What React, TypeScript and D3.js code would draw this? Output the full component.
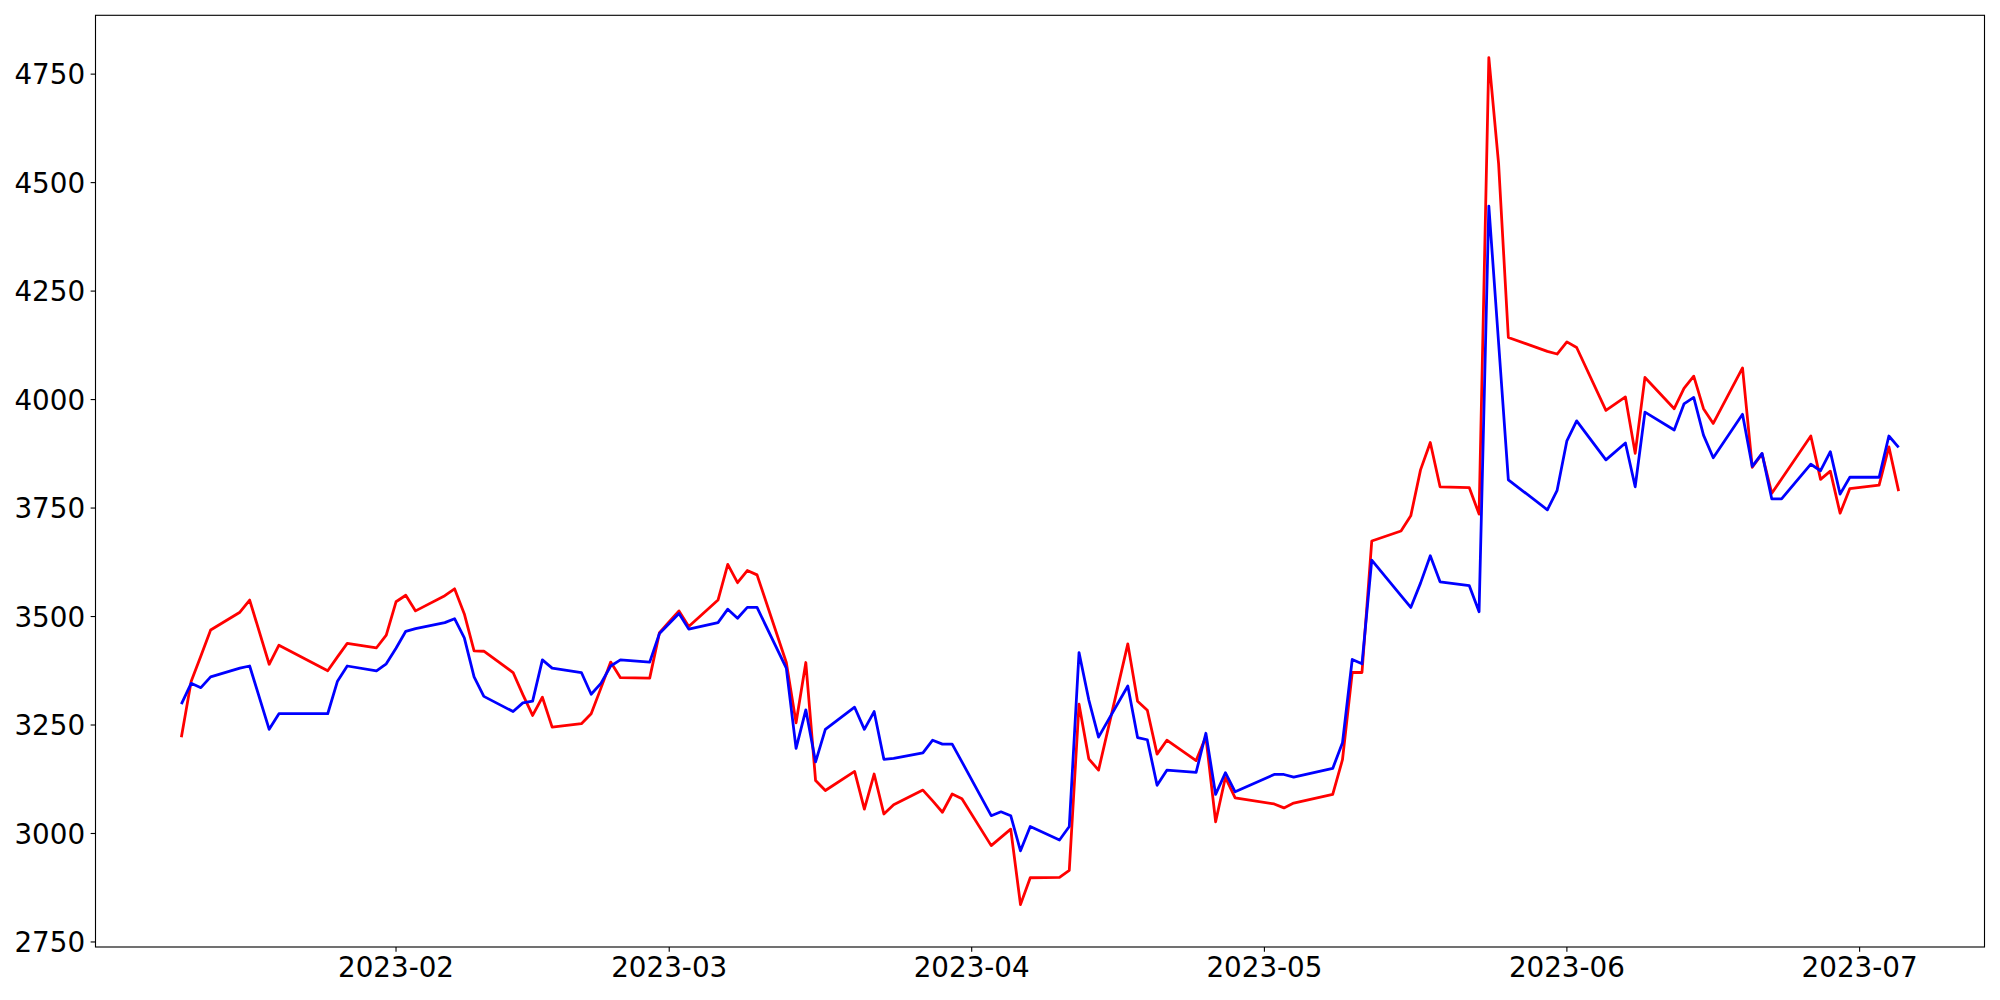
import React from "react";
import * as d3 from "d3";

const dates = [
  "2023-01-10","2023-01-11","2023-01-12","2023-01-13","2023-01-16","2023-01-17","2023-01-19","2023-01-20","2023-01-25","2023-01-26","2023-01-27","2023-01-30","2023-01-31",
  "2023-02-01","2023-02-02","2023-02-03","2023-02-06","2023-02-07","2023-02-08","2023-02-09","2023-02-10","2023-02-13","2023-02-14","2023-02-15","2023-02-16","2023-02-17","2023-02-20","2023-02-21","2023-02-22","2023-02-23","2023-02-24","2023-02-27","2023-02-28",
  "2023-03-01","2023-03-02","2023-03-03","2023-03-06","2023-03-07","2023-03-08","2023-03-09","2023-03-10","2023-03-13","2023-03-14","2023-03-15","2023-03-16","2023-03-17","2023-03-20","2023-03-21","2023-03-22","2023-03-23","2023-03-24","2023-03-27","2023-03-28","2023-03-29","2023-03-30","2023-03-31",
  "2023-04-03","2023-04-04","2023-04-05","2023-04-06","2023-04-07","2023-04-10","2023-04-11","2023-04-12","2023-04-13","2023-04-14","2023-04-17","2023-04-18","2023-04-19","2023-04-20","2023-04-21","2023-04-24","2023-04-25","2023-04-26","2023-04-27","2023-04-28",
  "2023-05-02","2023-05-03","2023-05-04","2023-05-08","2023-05-09","2023-05-10","2023-05-11","2023-05-12","2023-05-15","2023-05-16","2023-05-17","2023-05-18","2023-05-19","2023-05-22","2023-05-23","2023-05-24","2023-05-25","2023-05-26","2023-05-30","2023-05-31",
  "2023-06-01","2023-06-02","2023-06-05","2023-06-07","2023-06-08","2023-06-09","2023-06-12","2023-06-13","2023-06-14","2023-06-15","2023-06-16","2023-06-19","2023-06-20","2023-06-21","2023-06-22","2023-06-23","2023-06-26","2023-06-27","2023-06-28","2023-06-29","2023-06-30",
  "2023-07-03","2023-07-04","2023-07-05",
];

const redValues = [
  3222,3350,3409,3469,3510,3538,3390,3434,3375,3407,3438,3428,3457,
  3534,3549,3513,3548,3564,3506,3421,3420,3371,3320,3272,3314,3245,3253,3276,3335,3395,3359,3358,3463,
  3488,3513,3477,3538,3620,3578,3606,3596,3394,3255,3394,3122,3099,3143,3056,3137,3045,3066,3100,3075,3049,3091,3080,
  2972,2991,3010,2836,2898,2899,2915,3298,3172,3146,3437,3305,3284,3183,3215,3168,3223,3027,3129,3082,
  3068,3059,3070,3090,3170,3371,3371,3674,3697,3732,3838,3901,3799,3797,3736,4788,4544,4143,4111,4105,
  4133,4120,3975,4006,3876,4051,3979,4026,4054,3979,3945,4073,3844,3875,3784,3817,3916,3816,3835,3738,3795,
  3803,3891,3789,
];

const blueValues = [
  3298,3346,3336,3361,3381,3386,3240,3276,3276,3351,3386,3375,3391,
  3427,3466,3472,3486,3495,3451,3361,3316,3281,3301,3305,3400,3381,3371,3321,3346,3386,3400,3395,3461,
  3484,3507,3471,3486,3517,3496,3521,3521,3381,3196,3285,3165,3240,3291,3240,3281,3171,3173,3186,3215,3206,3206,3165,
  3041,3050,3041,2960,3016,2985,3016,3417,3308,3222,3340,3221,3216,3111,3146,3141,3231,3090,3140,3096,
  3136,3136,3130,3150,3209,3401,3391,3630,3548,3521,3577,3640,3580,3571,3511,4446,4131,3815,3746,3791,
  3905,3951,3861,3900,3799,3971,3930,3990,4005,3918,3866,3966,3846,3876,3771,3771,3851,3836,3880,3782,3821,
  3821,3916,3890,
];

const yTicks = [2750, 3000, 3250, 3500, 3750, 4000, 4250, 4500, 4750];
const xTickLabels = ["2023-02", "2023-03", "2023-04", "2023-05", "2023-06", "2023-07"];

const W = 2000;
const H = 1000;
const M = { left: 95.5, right: 15.5, top: 15.3, bottom: 53 };
const FONT = "'DejaVu Sans', sans-serif";
const FS = 27.78;
const TICK = 4.86;

export default function App() {
  const parse = d3.utcParse("%Y-%m-%d");
  const xs = dates.map((d) => parse(d) as Date);
  const parseMonth = d3.utcParse("%Y-%m");
  const xTicks = xTickLabels.map((m) => parseMonth(m) as Date);

  const x0 = +xs[0];
  const x1 = +xs[xs.length - 1];
  const xPad = (x1 - x0) * 0.05;
  const allVals = redValues.concat(blueValues);
  const yMin = d3.min(allVals) as number;
  const yMax = d3.max(allVals) as number;
  const yPad = (yMax - yMin) * 0.05;

  const x = d3
    .scaleUtc()
    .domain([new Date(x0 - xPad), new Date(x1 + xPad)])
    .range([M.left, W - M.right]);
  const y = d3
    .scaleLinear()
    .domain([yMin - yPad, yMax + yPad])
    .range([H - M.bottom, M.top]);

  const line = d3
    .line<number>()
    .x((_, i) => x(xs[i]))
    .y((v) => y(v));

  const plotBottom = H - M.bottom;
  const plotRight = W - M.right;

  return (
    <svg
      width={W}
      height={H}
      style={{ position: "absolute", left: 0, top: 0, background: "#fff" }}
    >
      <rect x={0} y={0} width={W} height={H} fill="#fff" />
      <path d={line(redValues) || ""} fill="none" stroke="#ff0000" strokeWidth={2.78} strokeLinejoin="round" />
      <path d={line(blueValues) || ""} fill="none" stroke="#0000ff" strokeWidth={2.78} strokeLinejoin="round" />
      <rect
        x={M.left}
        y={M.top}
        width={plotRight - M.left}
        height={plotBottom - M.top}
        fill="none"
        stroke="#000"
        strokeWidth={1.11}
      />
      {yTicks.map((t) => (
        <g key={"y" + t}>
          <line x1={M.left - TICK} x2={M.left} y1={y(t)} y2={y(t)} stroke="#000" strokeWidth={1.11} />
          <text
            x={M.left - TICK - 5.5}
            y={y(t) + 10.1}
            textAnchor="end"
            fontFamily={FONT}
            fontSize={FS}
            fill="#000"
          >
            {t}
          </text>
        </g>
      ))}
      {xTicks.map((t, i) => (
        <g key={"x" + i}>
          <line x1={x(t)} x2={x(t)} y1={plotBottom} y2={plotBottom + TICK} stroke="#000" strokeWidth={1.11} />
          <text
            x={x(t)}
            y={plotBottom + TICK + 4.86 + 20.3}
            textAnchor="middle"
            fontFamily={FONT}
            fontSize={FS}
            fill="#000"
          >
            {xTickLabels[i]}
          </text>
        </g>
      ))}
    </svg>
  );
}
